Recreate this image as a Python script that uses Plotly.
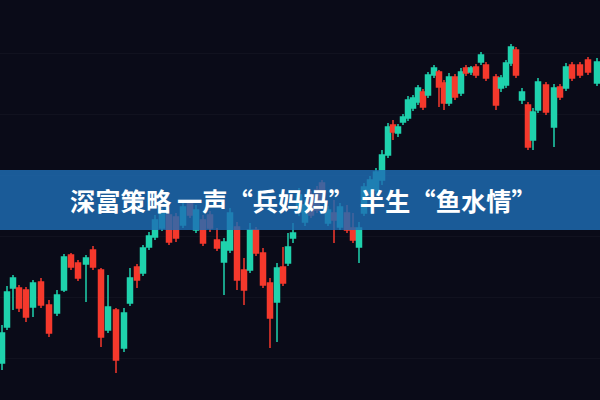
import plotly.graph_objects as go

# candle positions (horizontal slot) and OHLC values (price units)
x_pos = [2, 7, 13, 19, 26, 33, 41, 49, 57, 64, 71, 78, 86, 93, 101, 108, 116, 124, 130, 137,
         143, 149, 155, 162, 169, 176, 183, 190, 196, 203, 210, 217, 224, 230, 237, 244, 250, 256, 263, 270,
         277, 283, 288, 293, 299, 305, 311, 317, 322, 328, 334, 340, 347, 353, 359, 364, 370, 376, 382, 388,
         393, 398, 403, 408, 413, 418, 423, 428, 434, 439, 444, 449, 455, 461, 466, 471, 476, 481, 486, 496,
         501, 506, 511, 516, 522, 528, 533, 538, 546, 554, 560, 566, 572, 580, 588, 597]
open_ = [37, 73, 112, 112, 110, 93, 118, 95, 87, 110, 145, 137, 136, 150, 130, 70, 90, 52, 97, 133,
         127, 153, 163, 172, 185, 183, 175, 197, 170, 180, 185, 160, 138, 150, 173, 130, 130, 170, 147, 117,
         98, 133, 137, 162, 188, 178, 205, 210, 217, 177, 187, 173, 187, 172, 153, 187, 207, 210, 220, 245,
         275, 267, 278, 282, 292, 298, 308, 305, 325, 328, 317, 297, 323, 307, 332, 328, 333, 338, 335, 323,
         312, 315, 337, 350, 300, 295, 260, 290, 315, 273, 313, 312, 335, 335, 340, 317]
high = [75, 114, 125, 115, 113, 120, 122, 100, 110, 146, 147, 140, 145, 154, 132, 125, 92, 92, 132, 136,
        155, 168, 185, 192, 190, 187, 197, 200, 195, 185, 189, 172, 162, 192, 178, 142, 177, 173, 152, 122,
        137, 153, 167, 177, 212, 200, 209, 214, 220, 194, 200, 197, 195, 187, 178, 217, 224, 232, 250, 277,
        280, 276, 286, 304, 305, 315, 311, 328, 335, 330, 320, 327, 326, 332, 335, 334, 336, 348, 338, 326,
        325, 340, 356, 353, 312, 298, 292, 322, 318, 316, 316, 337, 338, 338, 343, 342]
low = [30, 70, 90, 88, 78, 83, 92, 63, 84, 108, 130, 119, 98, 130, 53, 67, 27, 48, 94, 112,
       124, 150, 160, 169, 155, 158, 172, 182, 167, 154, 168, 149, 105, 147, 110, 95, 127, 144, 112, 52,
       58, 114, 134, 157, 184, 174, 182, 187, 196, 174, 157, 170, 167, 157, 137, 184, 204, 206, 215, 242,
       260, 263, 275, 279, 289, 295, 290, 302, 322, 293, 290, 294, 300, 304, 324, 325, 322, 335, 319, 290,
       308, 312, 334, 322, 296, 250, 250, 287, 285, 253, 300, 309, 319, 322, 325, 314]
close = [67, 108, 122, 92, 83, 117, 95, 67, 105, 143, 133, 122, 142, 133, 63, 93, 40, 87, 122, 120,
         152, 164, 180, 188, 158, 162, 193, 185, 190, 157, 172, 152, 158, 187, 120, 110, 170, 147, 115, 82,
         132, 117, 153, 167, 205, 195, 185, 190, 200, 190, 180, 193, 170, 160, 172, 213, 220, 228, 245, 273,
         268, 273, 283, 300, 302, 312, 293, 325, 332, 313, 297, 323, 303, 328, 327, 332, 325, 345, 322, 295,
         322, 337, 353, 325, 308, 253, 288, 318, 288, 312, 303, 333, 322, 325, 328, 338]

grid_levels = [42, 103, 164, 225, 286, 347]
banner_text = "<b>深富策略 一声“兵妈妈” 半生“鱼水情”</b>"

bg = "#0a0b18"

fig = go.Figure(go.Candlestick(
    x=x_pos, open=open_, high=high, low=low, close=close,
    increasing=dict(line=dict(color="#1fd2ad", width=1.5), fillcolor="#1fd2ad"),
    decreasing=dict(line=dict(color="#f5392c", width=1.5), fillcolor="#f5392c"),
    whiskerwidth=0,
    hoverinfo="skip",
))

fig.update_layout(
    width=600, height=400,
    margin=dict(l=0, r=0, t=0, b=0),
    paper_bgcolor=bg, plot_bgcolor=bg,
    showlegend=False,
    boxgap=0, boxgroupgap=0,
    xaxis=dict(range=[0, 600], visible=False, rangeslider=dict(visible=False), fixedrange=True),
    yaxis=dict(range=[0, 400], showticklabels=False, zeroline=False, tickvals=grid_levels,
               gridcolor="rgba(255,255,255,0.03)", showline=False, fixedrange=True),
    shapes=[dict(type="rect", xref="paper", yref="paper", x0=0, x1=1, y0=0.425, y1=0.575,
                 fillcolor="rgba(30,108,180,0.82)", line=dict(width=0), layer="above")],
    annotations=[dict(text=banner_text, xref="paper", yref="paper", x=0.505, y=0.5,
                      xanchor="center", yanchor="middle", showarrow=False,
                      font=dict(family="Noto Sans CJK SC", size=25.3, color="#ffffff"))],
)

fig.write_html(
    "out.html",
    config={"displayModeBar": False, "staticPlot": True},
    post_script="document.body.style.margin='0';document.body.style.background='" + bg + "';document.body.style.overflow='hidden';",
)
